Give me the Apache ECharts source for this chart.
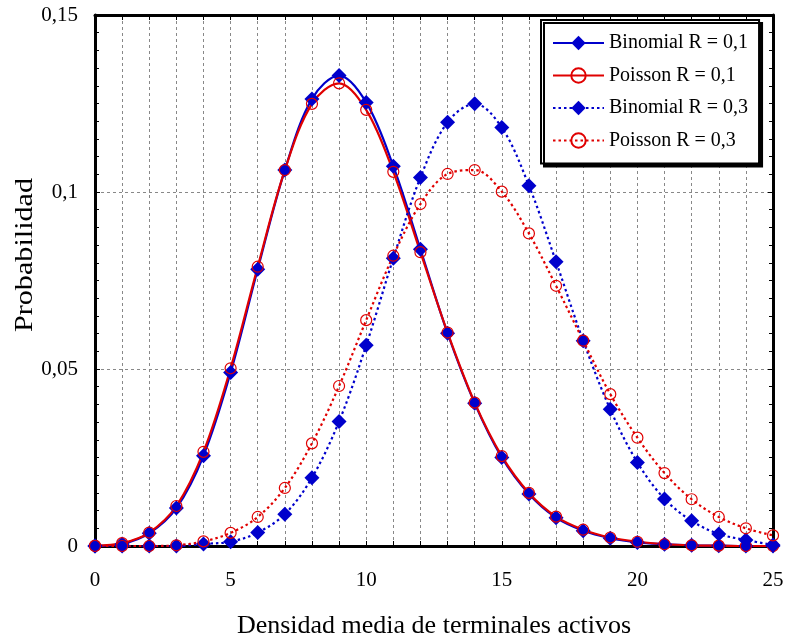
<!DOCTYPE html>
<html>
<head>
<meta charset="utf-8">
<script src="https://cdn.jsdelivr.net/npm/echarts@6/dist/echarts.min.js"></script>
<style>
  html, body { margin: 0; padding: 0; background: #fff; }
  #chart { width: 789px; height: 641px; }
</style>
</head>
<body>
<div id="chart"></div>
<script>
// Number of active terminals (x axis)
const terminals = [0,1,2,3,4,5,6,7,8,9,10,11,12,13,14,15,16,17,18,19,20,21,22,23,24,25];

// Probabilities for R = 0,1
const binomialR01 = [0.0000,0.0006,0.0036,0.0107,0.0255,0.0490,0.0782,0.1062,0.1263,0.1329,0.1253,0.1073,0.0838,0.0601,0.0403,0.0250,0.0147,0.0080,0.0043,0.0022,0.0010,0.0005,0.0002,0.0001,0.0000,0.0000];
const poissonR01  = [0.0001,0.0008,0.0038,0.0113,0.0266,0.0502,0.0789,0.1062,0.1249,0.1307,0.1232,0.1057,0.0830,0.0603,0.0405,0.0254,0.0150,0.0083,0.0046,0.0024,0.0012,0.0005,0.0002,0.0001,0.0000,0.0000];

// Probabilities for R = 0,3
const binomialR03 = [0.0000,0.0000,0.0000,0.0000,0.0006,0.0012,0.0038,0.0090,0.0193,0.0352,0.0567,0.0813,0.1041,0.1197,0.1249,0.1182,0.1018,0.0803,0.0580,0.0386,0.0236,0.0133,0.0071,0.0034,0.0017,0.0003];
const poissonR03  = [0.0000,0.0000,0.0000,0.0002,0.0013,0.0037,0.0082,0.0164,0.0290,0.0452,0.0638,0.0820,0.0966,0.1051,0.1062,0.1001,0.0883,0.0735,0.0580,0.0429,0.0306,0.0206,0.0132,0.0082,0.0050,0.0030];

const seriesNames = ['Binomial R = 0,1', 'Poisson R = 0,1', 'Binomial R = 0,3', 'Poisson R = 0,3'];
const xTickLabels = ['0', '5', '10', '15', '20', '25'];
const yTickLabels = ['0', '0,05', '0,1', '0,15'];

const xTitle = 'Densidad media de terminales activos';
const yTitle = 'Probabilidad';

const FONT = '"Liberation Serif", "Times New Roman", serif';
const BLUE = '#0000CC';
const RED = '#E00000';

const pair = arr => terminals.map((x, i) => [x, arr[i]]);

const gridLine = { show: true, lineStyle: { color: '#888', width: 1, type: [3, 3] } };

const frameLine = { show: true, onZero: false, lineStyle: { color: '#000', width: 3 } };
const inTick = { show: true, inside: true, length: 5, lineStyle: { color: '#000', width: 1 } };
const inMinorTick = { show: true, splitNumber: 10, length: 4, lineStyle: { color: '#000', width: 1 } };

function binomialSeries(name, values, dotted) {
  return {
    name, type: 'line', smooth: 0.35, data: pair(values),
    symbol: 'diamond', symbolSize: 15, showAllSymbol: true,
    lineStyle: { color: BLUE, width: 2.2, type: dotted ? [2.5, 3] : 'solid' },
    itemStyle: { color: BLUE }
  };
}

function poissonSeries(name, values, dotted) {
  return {
    name, type: 'line', smooth: 0.35, data: pair(values),
    symbol: 'circle', symbolSize: 11, showAllSymbol: true,
    lineStyle: { color: RED, width: 2.2, type: dotted ? [2.5, 3] : 'solid' },
    itemStyle: { color: 'rgba(0,0,0,0)', borderColor: RED, borderWidth: 1.2 }
  };
}

const chart = echarts.init(document.getElementById('chart'), null, { renderer: 'canvas' });

chart.setOption({
  animation: false,
  backgroundColor: '#fff',
  grid: { left: 95, right: 16, top: 15, bottom: 95, containLabel: false, outerBoundsMode: 'none' },
  legend: {
    orient: 'vertical',
    left: 541,
    top: 20,
    padding: [13, 11, 13, 11],
    itemWidth: 51,
    itemHeight: 18,
    itemGap: 12.5,
    backgroundColor: '#fff',
    borderColor: '#000',
    borderWidth: 2,
    shadowColor: '#000',
    shadowBlur: 0,
    shadowOffsetX: 3,
    shadowOffsetY: 3,
    textStyle: { fontFamily: FONT, fontSize: 20, color: '#000', lineHeight: 20 },
    data: seriesNames
  },
  xAxis: [
    {
      type: 'value', position: 'bottom', min: 0, max: 25, interval: 1,
      axisLine: frameLine,
      axisTick: inTick,
      axisLabel: {
        fontFamily: FONT, fontSize: 21, color: '#000', margin: 24,
        formatter: v => (v % 5 === 0 ? xTickLabels[v / 5] : '')
      },
      splitLine: gridLine,
      name: xTitle, nameLocation: 'middle', nameGap: 67,
      nameTextStyle: { fontFamily: FONT, fontSize: 26, color: '#000' }
    },
    {
      type: 'value', position: 'top', min: 0, max: 25, interval: 1,
      axisLine: frameLine,
      axisTick: inTick,
      axisLabel: { show: false },
      splitLine: { show: false }
    }
  ],
  yAxis: [
    {
      type: 'value', position: 'left', min: 0, max: 0.15, interval: 0.05,
      axisLine: frameLine,
      axisTick: inTick,
      minorTick: inMinorTick,
      axisLabel: {
        fontFamily: FONT, fontSize: 21, color: '#000', margin: 17,
        formatter: v => yTickLabels[Math.round(v / 0.05)]
      },
      splitLine: gridLine
    },
    {
      type: 'value', position: 'right', min: 0, max: 0.15, interval: 0.05,
      axisLine: frameLine,
      axisTick: inTick,
      minorTick: inMinorTick,
      axisLabel: { show: false },
      splitLine: { show: false }
    }
  ],
  graphic: [
    {
      type: 'text', x: 25, y: 255, rotation: Math.PI / 2, scaleX: 1.16,
      style: {
        text: yTitle, font: '26px ' + FONT, fill: '#000',
        align: 'center', verticalAlign: 'middle'
      }
    }
  ],
  series: [
    binomialSeries(seriesNames[0], binomialR01, false),
    poissonSeries(seriesNames[1], poissonR01, false),
    binomialSeries(seriesNames[2], binomialR03, true),
    poissonSeries(seriesNames[3], poissonR03, true)
  ]
});
</script>
</body>
</html>
